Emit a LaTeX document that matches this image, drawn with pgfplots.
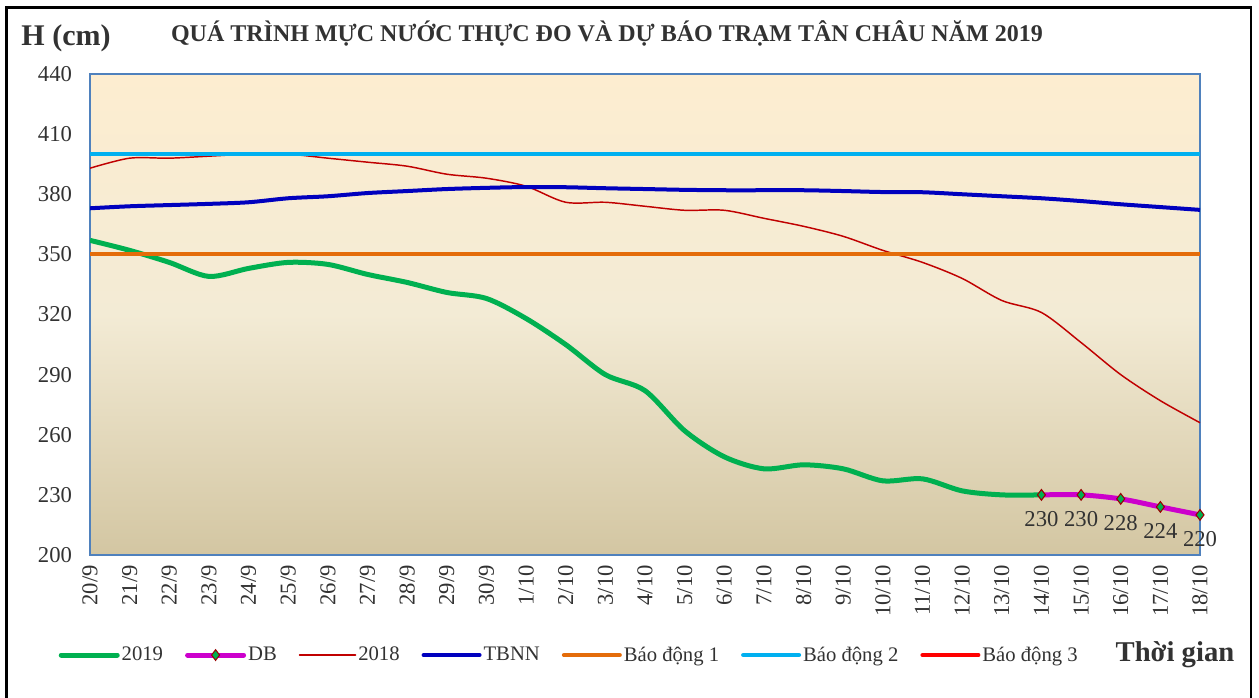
\documentclass[border=0pt]{standalone}
\usepackage{fontspec}
\setmainfont{Liberation Serif}
\usepackage{pgfplots}
\pgfplotsset{compat=1.18}
\definecolor{cGreen}{RGB}{0,176,80}
\definecolor{cMag}{RGB}{204,0,204}
\definecolor{cRed18}{RGB}{192,0,0}
\definecolor{cTB}{RGB}{0,0,190}
\definecolor{cOr}{RGB}{228,108,10}
\definecolor{cCy}{RGB}{0,176,240}
\definecolor{cRed}{RGB}{255,0,0}
\definecolor{cFrame}{RGB}{79,129,189}
\definecolor{cTxt}{RGB}{50,50,50}
\definecolor{bgTop}{RGB}{253,237,208}
\definecolor{bgMid}{RGB}{243,235,213}
\definecolor{bgBot}{RGB}{211,198,162}
\begin{document}
\begin{tikzpicture}
\useasboundingbox (0,0) rectangle (944.25pt,522.75pt);
\draw[black, line width=1.8pt] (4.9pt,-2pt) -- (4.9pt,517.1pt) -- (938.3pt,517.1pt) -- (938.3pt,-2pt);
\node[font=\bfseries\fontsize{22.5pt}{24pt}\selectfont, text=cTxt] at (49.5pt,494.2pt) {H (cm)};
\node[font=\bfseries\fontsize{18pt}{20pt}\selectfont, text=cTxt] at (455.2pt,497.5pt) {QUÁ TRÌNH MỰC NƯỚC THỰC ĐO VÀ DỰ BÁO TRẠM TÂN CHÂU NĂM 2019};
\node[font=\bfseries\fontsize{21.5pt}{23pt}\selectfont, text=cTxt] at (881.2pt,31.5pt) {Thời gian};
\begin{axis}[
  at={(67.5pt,106.5pt)}, anchor=south west,
  scale only axis, width=832.5pt, height=360.75pt,
  xmin=0, xmax=28, ymin=200, ymax=440,
  xtick={0,...,28},
  xticklabels={20/9,21/9,22/9,23/9,24/9,25/9,26/9,27/9,28/9,29/9,30/9,1/10,2/10,3/10,4/10,5/10,6/10,7/10,8/10,9/10,10/10,11/10,12/10,13/10,14/10,15/10,16/10,17/10,18/10},
  ytick={200,230,...,440},
  major tick length=0pt,
  /pgf/number format/assume math mode=true,
  ticklabel style={font=\fontsize{17pt}{19pt}\selectfont, text=cTxt},
  xticklabel style={rotate=90, anchor=east, xshift=-4pt},
  yticklabel style={xshift=-10pt},
  axis line style={cFrame, line width=1.2pt},
  axis background/.style={top color=bgTop, bottom color=bgBot, middle color=bgMid},
  legend columns=-1,
  legend style={draw=none, fill=none, at={(-0.032,-0.208)}, anchor=west,
    font=\fontsize{15.5pt}{17pt}\selectfont, text=cTxt,
    /tikz/every even column/.append style={column sep=15pt},
    nodes={inner sep=1.5pt}},
  legend cell align=left,
  legend image code/.code={\draw[#1, line cap=round, mark repeat=2, mark phase=2] plot coordinates {(0pt,0pt) (21pt,0pt) (42pt,0pt)};},
]
\addplot[cGreen, line width=3.75pt, smooth, tension=0.5] coordinates {
(0,357)(1,352)(2,346)(3,339)(4,343)(5,346)(6,345)(7,340)(8,336)(9,331)(10,328)(11,318)(12,305)(13,290)(14,282)(15,262)(16,249)(17,243)(18,245)(19,243)(20,237)(21,238)(22,232)(23,230)(24,230)};
\addlegendentry{2019}
\addplot[cMag, line width=3.75pt, smooth, tension=0.5, mark=diamond*, mark size=4pt,
  mark options={fill=cGreen, draw=cRed18!80!black, line width=0.8pt},
  nodes near coords, point meta=y,
  every node near coord/.style={anchor=north, yshift=-9pt, font=\fontsize{17pt}{19pt}\selectfont, text=cTxt, /pgf/number format/fixed, /pgf/number format/precision=0}] coordinates {
(24,230)(25,230)(26,228)(27,224)(28,220)};
\addlegendentry{DB}
\addplot[cRed18, line width=1.1pt, smooth, tension=0.5] coordinates {
(0,393)(1,398)(2,398)(3,399)(4,400)(5,400)(6,398)(7,396)(8,394)(9,390)(10,388)(11,384)(12,376)(13,376)(14,374)(15,372)(16,372)(17,368)(18,364)(19,359)(20,352)(21,346)(22,338)(23,327)(24,321)(25,306)(26,290)(27,277)(28,266)};
\addlegendentry{2018}
\addplot[cTB, line width=3pt, smooth, tension=0.5] coordinates {
(0,373)(1,374)(2,374.6)(3,375.2)(4,376)(5,378)(6,379)(7,380.6)(8,381.6)(9,382.6)(10,383.2)(11,383.6)(12,383.5)(13,383)(14,382.6)(15,382.2)(16,382)(17,382)(18,382)(19,381.6)(20,381.1)(21,381)(22,380)(23,379)(24,378)(25,376.6)(26,375)(27,373.6)(28,372.2)};
\addlegendentry{TBNN}
\addplot[cOr, line width=3pt] coordinates {(0,350)(28,350)};
\addlegendentry{Báo động 1}
\addplot[cCy, line width=3pt] coordinates {(0,400)(28,400)};
\addlegendentry{Báo động 2}
\addplot[cRed, line width=3pt] coordinates {(0,450)(28,450)};
\addlegendentry{Báo động 3}
\end{axis}
\end{tikzpicture}
\end{document}
